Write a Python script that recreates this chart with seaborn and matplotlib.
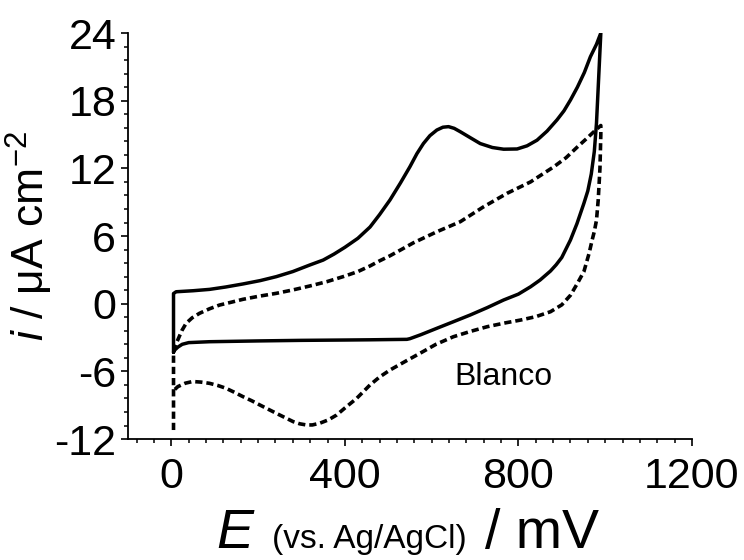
import matplotlib
matplotlib.use("Agg")
import matplotlib.pyplot as plt
from matplotlib.ticker import MultipleLocator
from matplotlib.offsetbox import TextArea, HPacker, AnchoredOffsetbox
import pandas as pd
import seaborn as sns

# solid curve (closed loop: forward scan, then reverse scan)
E_solid = [5, 5, 11, 50, 88, 125, 165, 205, 242, 280, 319, 350, 375, 400, 430,
           458, 480, 504, 528, 550, 566, 581, 596, 612, 626, 639, 652, 666, 690,
           712, 740, 766, 797, 820, 843, 866, 889, 905, 920, 936, 952, 966, 980,
           990, 985, 980, 975, 968, 960, 951, 935, 920, 900, 887, 874, 850, 828,
           800, 766, 728, 689, 650, 612, 575, 550, 543, 500, 458, 400, 300, 200,
           88, 40, 25, 15, 8, 5]
i_solid = [-4.3, 0.9, 1.06, 1.15, 1.27, 1.48, 1.75, 2.05, 2.4, 2.85, 3.43, 3.87,
           4.4, 5.0, 5.8, 6.8, 7.9, 9.2, 10.7, 12.15, 13.3, 14.2, 14.9, 15.4,
           15.65, 15.7, 15.55, 15.25, 14.7, 14.2, 13.85, 13.7, 13.72, 14.0, 14.5,
           15.3, 16.3, 17.1, 18.06, 19.2, 20.5, 21.9, 23.0, 24.0, 20.0, 16.0,
           13.5, 11.5, 10.0, 8.9, 7.1, 5.65, 4.1, 3.45, 2.9, 2.1, 1.5, 0.85,
           0.33, -0.35, -1.0, -1.6, -2.18, -2.75, -3.1, -3.16, -3.18, -3.2,
           -3.22, -3.25, -3.3, -3.37, -3.45, -3.6, -3.85, -4.1, -4.3]

# dashed curve
E_dash = [5, 5, 8, 15, 24, 34, 48, 65, 88, 111, 140, 165, 200, 242, 280, 319,
          358, 396, 430, 458, 480, 504, 530, 558, 612, 666, 720, 774, 828, 882,
          910, 936, 956, 974, 990, 990, 988, 984, 980, 975, 970, 963, 951, 936,
          920, 900, 874, 840, 805, 770, 728, 690, 650, 610, 573, 540, 504, 480,
          458, 440, 427, 400, 381, 362, 342, 325, 311, 296, 281, 262, 242, 223,
          204, 185, 165, 145, 126, 107, 88, 68, 49, 32, 15, 8]
i_dash = [-11.2, -4.4, -3.8, -3.2, -2.4, -1.74, -1.25, -0.85, -0.45, -0.12, 0.15,
          0.39, 0.65, 0.92, 1.22, 1.57, 1.95, 2.4, 2.85, 3.35, 3.8, 4.25, 4.8,
          5.4, 6.38, 7.27, 8.6, 9.79, 10.8, 12.15, 12.95, 13.9, 14.6, 15.25,
          15.8, 15.0, 12.0, 9.2, 7.4, 6.4, 5.65, 4.47, 2.85, 1.8, 0.75, -0.1,
          -0.71, -1.15, -1.45, -1.7, -2.04, -2.45, -2.93, -3.6, -4.4, -5.1,
          -5.88, -6.5, -7.2, -7.9, -8.4, -9.25, -9.87, -10.3, -10.6, -10.75,
          -10.75, -10.65, -10.46, -10.1, -9.72, -9.35, -8.98, -8.6, -8.24,
          -7.85, -7.5, -7.25, -7.06, -6.95, -6.9, -7.05, -7.35, -7.6]

x_ticks = [0, 400, 800, 1200]
y_ticks = [-12, -6, 0, 6, 12, 18, 24]

sns.set_style("ticks")
plt.rcParams['font.family'] = ['Liberation Sans', 'DejaVu Sans']
plt.rcParams['mathtext.fontset'] = 'custom'
plt.rcParams['mathtext.rm'] = 'Liberation Sans'
plt.rcParams['mathtext.it'] = 'Liberation Sans:italic'
plt.rcParams['axes.unicode_minus'] = False
plt.rcParams['text.color'] = 'black'
plt.rcParams['axes.labelcolor'] = 'black'

df_solid = pd.DataFrame({"E": E_solid, "i": i_solid})
df_dash = pd.DataFrame({"E": E_dash, "i": i_dash})

fig = plt.figure(figsize=(7.44, 5.6), dpi=100)
ax = fig.add_axes([0.172, 0.216, 0.758, 0.725])

sns.lineplot(data=df_solid, x="E", y="i", sort=False, estimator=None,
             color="black", lw=2.5, ax=ax)
sns.lineplot(data=df_dash, x="E", y="i", sort=False, estimator=None,
             color="black", lw=2.6, ax=ax)
ax.lines[1].set_dashes((2.0, 1.1))

ax.set_xlim(-100, 1200)
ax.set_ylim(-12, 24)
ax.set_xticks(x_ticks)
ax.set_yticks(y_ticks)
ax.xaxis.set_minor_locator(MultipleLocator(40))
ax.yaxis.set_minor_locator(MultipleLocator(1.2))
ax.tick_params(which='major', direction='out', length=5, width=1.2,
               labelsize=31, colors='black')
ax.tick_params(axis='x', which='major', pad=8)
ax.tick_params(which='minor', direction='out', length=3, width=1.1,
               colors='black')
sns.despine(ax=ax)
for s in ("left", "bottom"):
    ax.spines[s].set_linewidth(1.3)
    ax.spines[s].set_color("black")

ax.text(765, -6.5, "Blanco", ha='center', va='center', fontsize=23)

ax.set_xlabel("")
ax.set_ylabel(r"$\mathit{i}$ / μA cm$^{-2}$", fontsize=32)
ax.yaxis.set_label_coords(-0.13, 0.5)

# x label with mixed font sizes
parts = [TextArea("E", textprops=dict(fontsize=40, fontstyle='italic')),
         TextArea("(vs. Ag/AgCl)", textprops=dict(fontsize=24)),
         TextArea("/ mV", textprops=dict(fontsize=40))]
box = HPacker(children=parts, align="baseline", pad=0, sep=13)
lab = AnchoredOffsetbox(loc='lower center', child=box, pad=0, borderpad=0,
                        frameon=False, bbox_to_anchor=(0.548, 0.0),
                        bbox_transform=fig.transFigure)
fig.add_artist(lab)

fig.savefig("out.png", dpi=100)
